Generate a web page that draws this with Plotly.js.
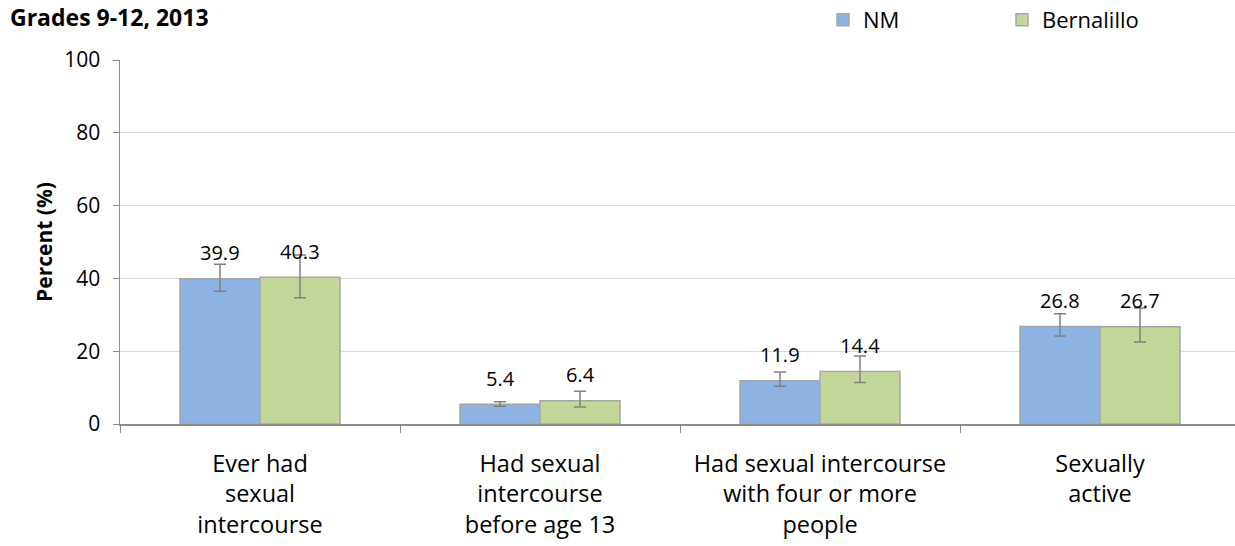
<!DOCTYPE html>
<html><head><meta charset="utf-8">
<script src="https://cdn.plot.ly/plotly-3.0.1.min.js"></script>
<style>html,body{margin:0;padding:0;overflow:hidden;background:#fff}</style>
</head><body><div id="chart"></div>
<script>
const categories = ["Ever had<br>sexual<br>intercourse","Had sexual<br>intercourse<br>before age 13","Had sexual intercourse<br>with four or more<br>people","Sexually<br>active"];
const nmValues = [39.9, 5.4, 11.9, 26.8];
const nmLower = [36.5, 4.9, 10.4, 24.2];
const nmUpper = [43.9, 6.1, 14.3, 30.3];
const bernValues = [40.3, 6.4, 14.4, 26.7];
const bernLower = [34.7, 4.7, 11.4, 22.5];
const bernUpper = [46.4, 9.0, 18.7, 31.9];
const yTicks = [0, 20, 40, 60, 80, 100];

const FONT = "Open Sans, Liberation Sans, sans-serif";
function mkTrace(name, vals, lo, hi, color){
  return {type:'bar', name:name, x:categories, y:vals,
    marker:{color:color, line:{color:'#a6a6a6', width:1.5}},
    error_y:{type:'data', symmetric:false,
      array: hi.map((h,i)=>h-vals[i]), arrayminus: vals.map((v,i)=>v-lo[i]),
      color:'#808080', thickness:1.5, width:6},
    hoverinfo:'skip'};
}
const traces = [mkTrace('NM', nmValues, nmLower, nmUpper, '#8db3e2'),
                mkTrace('Bernalillo', bernValues, bernLower, bernUpper, '#c4d79b')];
const annotations = [];
[[nmValues,-40],[bernValues,40]].forEach(([vals,sh])=>{
  vals.forEach((v,i)=>annotations.push({x:categories[i], y:v, xref:'x', yref:'y', text:v.toFixed(1),
    showarrow:false, xshift:sh, yshift:26, font:{family:FONT, size:20, color:'#000'}}));
});
annotations.push({xref:'paper', yref:'paper', x:-112/1120, y:1+43/364, xanchor:'left', yanchor:'middle',
  text:'<b>Grades 9-12, 2013</b>', showarrow:false, font:{family:FONT, size:23, color:'#000'}});
const layout = {
  width:1240, height:546,
  margin:{l:120, r:0, t:60, b:122, autoexpand:false},
  paper_bgcolor:'#fff', plot_bgcolor:'#fff',
  bargap:0.4286, bargroupgap:0,
  showlegend:true,
  legend:{orientation:'h', x:(823-120)/1120, y:1+40/364, xanchor:'left', yanchor:'middle',
    font:{family:FONT, size:22, color:'#000'}, itemwidth:30, tracegroupgap:0, entrywidth:134},
  xaxis:{type:'category', showline:true, linecolor:'#8c8c8c', linewidth:1.5,
    ticks:'outside', tickson:'boundaries', ticklen:7, tickcolor:'#8c8c8c', ticklabelstandoff:18,
    tickfont:{family:FONT, size:23.5, color:'#000'}, showgrid:false},
  yaxis:{range:[0,100], tickvals:yTicks, ticktext:yTicks.map(String),
    showline:true, linecolor:'#8c8c8c', linewidth:1.5, ticks:'outside', ticklen:6, tickcolor:'#8c8c8c',
    ticklabelstandoff:8,
    gridcolor:'#d9d9d9', gridwidth:1.3, zeroline:false,
    tickfont:{family:FONT, size:21, color:'#000'},
    title:{text:'<b>Percent (%)</b>', standoff:6, font:{family:FONT, size:21, color:'#000'}}},
  annotations:annotations
};
Plotly.newPlot('chart', traces, layout, {displayModeBar:false, staticPlot:true});
</script></body></html>
